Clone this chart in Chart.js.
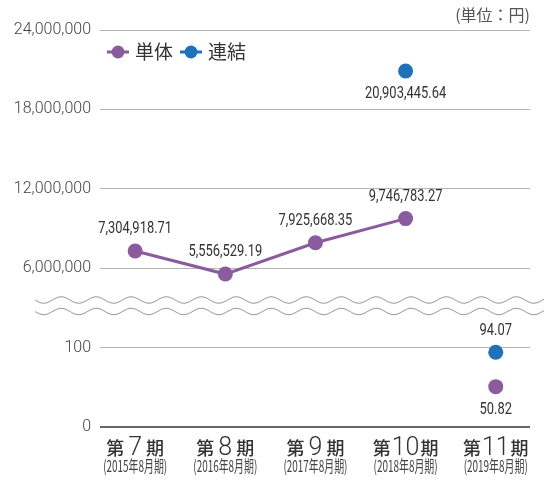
<!DOCTYPE html>
<html>
<head>
<meta charset="utf-8">
<script src="https://cdn.jsdelivr.net/npm/chart.js@4/dist/chart.umd.min.js"></script>
<style>
  html, body { margin: 0; padding: 0; background: #fff; }
  #wrap { width: 544px; height: 482px; }
</style>
</head>
<body>
<div id="wrap"><canvas id="myChart" width="544" height="482"></canvas></div>
<script>
// data
var categories = ['第7期', '第8期', '第9期', '第10期', '第11期'];
var periods = ['(2015年8月期)', '(2016年8月期)', '(2017年8月期)', '(2018年8月期)', '(2019年8月期)'];
var tanTai = [7304918.71, 5556529.19, 7925668.35, 9746783.27, 50.82];
var renKetsu = [null, null, null, 20903445.64, 94.07];
var yTickValues = [0, 100, 6000000, 12000000, 18000000, 24000000];
var yTickLabels = ['0', '100', '6,000,000', '12,000,000', '18,000,000', '24,000,000'];

var PURPLE = '#8a5c9d',
    BLUE = '#1f72b8',
    NUM = 'Roboto, "Liberation Sans", sans-serif',
    CJK = '"Noto Sans CJK JP", "Noto Sans", sans-serif';

// broken axis: 0..100 in the lower band, 6M..24M in the upper band
function toAxis(v) {
    if (v === null) return null;
    return v <= 1000 ? v / 100 : 2 + (v - 6000000) / 6000000;
}

function fmt(v) {
    var parts = v.toFixed(2).split('.');
    return parts[0].replace(/\B(?=(\d{3})+(?!\d))/g, ',') + '.' + parts[1];
}

function points(arr) {
    var out = [], i;
    for (i = 0; i < arr.length; i += 1) {
        if (arr[i] !== null) out.push({x: i, y: toAxis(arr[i]), raw: arr[i]});
    }
    return out;
}

// narrow text: draw squeezed horizontally
function narrowText(ctx, text, x, y, font, sx, align) {
    ctx.save();
    ctx.translate(x, y);
    ctx.scale(sx, 1);
    ctx.font = font;
    ctx.textAlign = align || 'center';
    ctx.fillText(text, 0, 0);
    ctx.restore();
}

var breakPlugin = {
    id: 'axisBreak',
    afterDraw: function (chart) {
        var ctx = chart.ctx, x0 = 35, x1 = 544, lines = [300, 311.5], amp = 3.2, len = 35, x, k;
        ctx.save();
        ctx.fillStyle = '#fff';
        ctx.fillRect(x0, lines[0] - 5, x1 - x0, lines[1] - lines[0] + 10);
        ctx.strokeStyle = '#9a9a9a';
        ctx.lineWidth = 1;
        for (k = 0; k < lines.length; k += 1) {
            ctx.beginPath();
            for (x = x0; x <= x1; x += 1) {
                var y = lines[k] + amp * Math.sin((x - x0) / len * Math.PI * 2);
                if (x === x0) ctx.moveTo(x, y); else ctx.lineTo(x, y);
            }
            ctx.stroke();
        }
        ctx.restore();
    }
};

var legendPlugin = {
    id: 'lineLegend',
    afterDraw: function (chart) {
        var ctx = chart.ctx, x = 107, y = 52;
        ctx.save();
        ctx.font = '19px ' + CJK;
        ctx.textBaseline = 'middle';
        ctx.textAlign = 'left';
        chart.data.datasets.forEach(function (ds) {
            ctx.strokeStyle = ds.borderColor;
            ctx.fillStyle = ds.borderColor;
            ctx.lineWidth = 3;
            ctx.beginPath(); ctx.moveTo(x, y); ctx.lineTo(x + 22, y); ctx.stroke();
            ctx.beginPath(); ctx.arc(x + 11, y, 6.5, 0, Math.PI * 2); ctx.fill();
            ctx.fillStyle = '#333';
            ctx.fillText(ds.label, x + 28, y);
            x += 28 + ctx.measureText(ds.label).width + 7;
        });
        ctx.restore();
    }
};

var labelPlugin = {
    id: 'valueLabels',
    afterDatasetsDraw: function (chart) {
        var ctx = chart.ctx;
        ctx.save();
        ctx.fillStyle = '#333';
        ctx.textBaseline = 'middle';
        chart.data.datasets.forEach(function (ds, di) {
            var meta = chart.getDatasetMeta(di);
            meta.data.forEach(function (el, i) {
                var below = ds.labelBelow[i];
                narrowText(ctx, fmt(ds.data[i].raw), el.x, el.y + (below ? 23 : -22), '17px ' + NUM, 0.76);
            });
        });

        // category labels under the axis
        var xs = chart.scales.x, i;
        for (i = 0; i < categories.length; i += 1) {
            var cx = xs.getPixelForValue(i),
                m = categories[i].match(/^(\D+)(\d+)(\D+)$/);
            ctx.textBaseline = 'alphabetic';
            ctx.font = '500 18px ' + CJK;
            var w1 = ctx.measureText(m[1]).width, w3 = ctx.measureText(m[3]).width;
            ctx.font = '300 25px ' + NUM;
            var w2 = ctx.measureText(m[2]).width, gap = m[2].length > 1 ? 1 : 4,
                total = w1 + w2 + w3 + gap * 2, sx = cx - total / 2;
            ctx.textAlign = 'left';
            ctx.fillStyle = '#333';
            ctx.font = '500 18px ' + CJK;
            ctx.fillText(m[1], sx, 455);
            ctx.fillText(m[3], sx + w1 + w2 + gap * 2, 455);
            ctx.font = '300 25px ' + NUM;
            ctx.fillText(m[2], sx + w1 + gap, 455);

            ctx.textBaseline = 'middle';
            ctx.fillStyle = '#444';
            narrowText(ctx, periods[i], cx, 466, '16px ' + CJK, 0.62);
        }
        ctx.restore();
    }
};

var chart = new Chart(document.getElementById('myChart').getContext('2d'), {
    type: 'line',
    data: {
        datasets: [
            {
                label: '単体',
                data: points(tanTai),
                labelBelow: [false, false, false, false, true],
                borderColor: PURPLE,
                backgroundColor: PURPLE,
                pointBackgroundColor: PURPLE,
                borderWidth: 3,
                pointRadius: 7.5,
                pointBorderWidth: 0,
                segment: {
                    borderColor: function (c) { return c.p1DataIndex === 4 ? 'transparent' : PURPLE; }
                }
            },
            {
                label: '連結',
                data: points(renKetsu),
                labelBelow: [true, false],
                borderColor: BLUE,
                backgroundColor: BLUE,
                pointBackgroundColor: BLUE,
                showLine: false,
                pointRadius: 7.5,
                pointBorderWidth: 0
            }
        ]
    },
    options: {
        responsive: false,
        animation: false,
        layout: {padding: {left: 0, right: 14, top: 0, bottom: 55}},
        scales: {
            x: {
                type: 'linear',
                display: false,
                min: -0.39,
                max: 4.38
            },
            y: {
                min: 0,
                max: 5,
                afterFit: function (s) { s.width = 100; },
                afterBuildTicks: function (s) {
                    s.ticks = yTickValues.map(function (v) { return {value: toAxis(v)}; });
                },
                border: {display: false},
                grid: {
                    drawTicks: false,
                    color: function (c) { return c.tick && c.tick.value === 0 ? '#666' : '#b4b4b4'; },
                    lineWidth: function (c) { return c.tick && c.tick.value === 0 ? 2 : 1; }
                },
                ticks: {
                    padding: 9,
                    color: '#444',
                    font: {family: NUM, size: 16, weight: 300},
                    callback: function (v, i) { return yTickLabels[i]; }
                }
            }
        },
        plugins: {
            tooltip: {enabled: false},
            legend: {display: false},
            title: {
                display: true,
                text: '(単位：円)',
                align: 'end',
                color: '#555',
                font: {family: CJK, size: 16, weight: 'normal', lineHeight: 1},
                padding: {top: 7, bottom: 7}
            }
        }
    },
    plugins: [breakPlugin, labelPlugin, legendPlugin]
});
</script>
</body>
</html>
